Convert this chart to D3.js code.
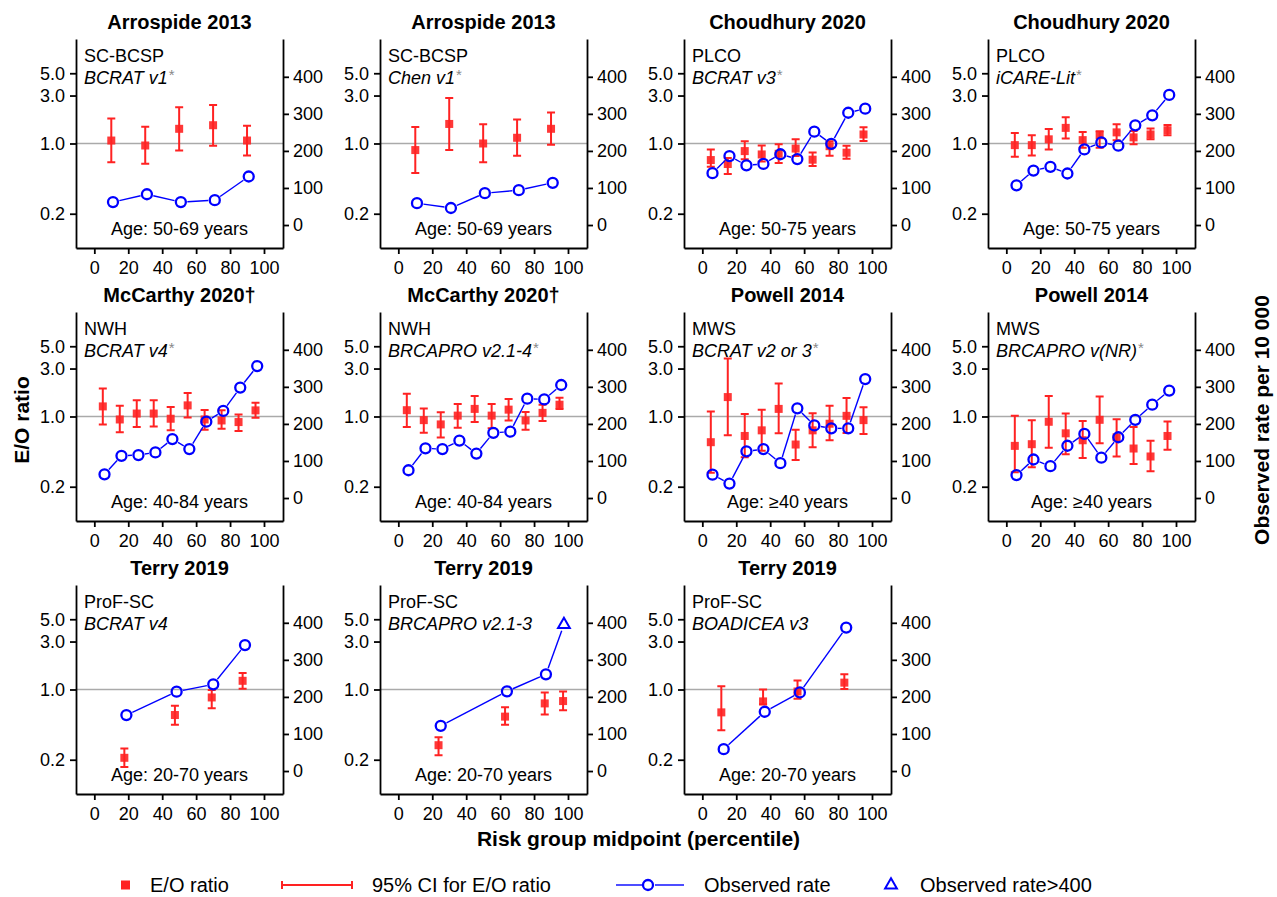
<!DOCTYPE html>
<html lang="en">
<head>
<meta charset="UTF-8">
<title>E/O ratio by risk group midpoint</title>
<script src="https://d3js.org/d3.v7.min.js"></script>
<style>
  body { margin: 0; background: #fff; }
  svg { font-family: "Liberation Sans", Arial, sans-serif; }
  .title { font-weight: bold; font-size: 20px; }
  .inner { font-size: 18px; }
  .axis text { font-size: 18px; fill: #000; }
  .axis path, .axis line { stroke: #000; stroke-width: 1.8px; }
  .lab { font-weight: bold; font-size: 21px; }
  .legend text { font-size: 20px; }
</style>
</head>
<body>
<div id="chart"></div>
<script>
// panel labels
const titles = ["Arrospide 2013", "Arrospide 2013", "Choudhury 2020", "Choudhury 2020",
  "McCarthy 2020\u2020", "McCarthy 2020\u2020", "Powell 2014", "Powell 2014",
  "Terry 2019", "Terry 2019", "Terry 2019"];
const cohorts = ["SC-BCSP", "SC-BCSP", "PLCO", "PLCO", "NWH", "NWH", "MWS", "MWS",
  "ProF-SC", "ProF-SC", "ProF-SC"];
const models = ["BCRAT v1", "Chen v1", "BCRAT v3", "iCARE-Lit", "BCRAT v4", "BRCAPRO v2.1-4",
  "BCRAT v2 or 3", "BRCAPRO v(NR)", "BCRAT v4", "BRCAPRO v2.1-3", "BOADICEA v3"];
const starred = [true, true, true, true, true, true, true, true, false, false, false];
const ages = ["Age: 50-69 years", "Age: 50-69 years", "Age: 50-75 years", "Age: 50-75 years",
  "Age: 40-84 years", "Age: 40-84 years", "Age: \u226540 years", "Age: \u226540 years",
  "Age: 20-70 years", "Age: 20-70 years", "Age: 20-70 years"];

// E/O ratio with 95% CI, by risk group midpoint (percentile)
const deciles = [5, 15, 25, 35, 45, 55, 65, 75, 85, 95];
const quintiles = [10, 30, 50, 70, 90];
const eoX = [quintiles, quintiles, deciles, deciles, deciles, deciles, deciles, deciles,
  [17.7, 47.5, 69.2, 87.4], [23.7, 62.9, 86.3, 97.1], [11.2, 35.8, 56.1, 83.7]];
const eoRatio = [
  [1.07, 0.955, 1.40, 1.52, 1.07],
  [0.86, 1.565, 1.0, 1.14, 1.40],
  [0.684, 0.625, 0.84, 0.778, 0.79, 0.89, 0.69, 0.94, 0.81, 1.23],
  [0.963, 0.963, 1.10, 1.43, 1.08, 1.21, 1.29, 1.15, 1.23, 1.355],
  [1.26, 0.934, 1.07, 1.07, 0.95, 1.29, 0.934, 0.913, 0.88, 1.15],
  [1.155, 0.92, 0.834, 1.02, 1.19, 1.02, 1.17, 0.913, 1.087, 1.31],
  [0.555, 1.56, 0.64, 0.728, 1.19, 0.526, 0.728, 0.847, 1.015, 0.92],
  [0.51, 0.53, 0.886, 0.68, 0.58, 0.927, 0.62, 0.48, 0.40, 0.64],
  [0.209, 0.557, 0.833, 1.22],
  [0.279, 0.537, 0.727, 0.767],
  [0.592, 0.761, 0.955, 1.17]
];
const ciLow = [
  [0.65, 0.63, 0.85, 0.95, 0.76],
  [0.51, 0.86, 0.65, 0.755, 0.97],
  [0.588, 0.497, 0.695, 0.66, 0.64, 0.75, 0.597, 0.755, 0.705, 1.06],
  [0.738, 0.76, 0.87, 1.12, 0.906, 0.906, 1.08, 0.98, 1.10, 1.21],
  [0.834, 0.696, 0.785, 0.797, 0.728, 0.978, 0.739, 0.756, 0.717, 0.97],
  [0.785, 0.69, 0.617, 0.774, 0.88, 0.762, 0.913, 0.739, 0.90, 1.19],
  [0.275, 0.65, 0.392, 0.456, 0.68, 0.369, 0.495, 0.58, 0.685, 0.67],
  [0.279, 0.312, 0.488, 0.42, 0.386, 0.542, 0.40, 0.337, 0.285, 0.467],
  [0.169, 0.447, 0.65, 1.015],
  [0.222, 0.447, 0.564, 0.62],
  [0.393, 0.713, 0.81, 1.01]
];
const ciHigh = [
  [1.77, 1.47, 2.29, 2.41, 1.50],
  [1.46, 2.83, 1.55, 1.73, 2.04],
  [0.87, 0.716, 1.05, 0.955, 0.98, 1.10, 0.815, 1.05, 0.95, 1.45],
  [1.275, 1.21, 1.39, 1.82, 1.30, 1.32, 1.55, 1.33, 1.41, 1.53],
  [1.90, 1.28, 1.45, 1.45, 1.245, 1.71, 1.16, 1.155, 1.046, 1.37],
  [1.685, 1.20, 1.10, 1.33, 1.60, 1.33, 1.49, 1.11, 1.31, 1.54],
  [1.12, 3.78, 1.06, 1.17, 2.13, 0.74, 1.08, 1.28, 1.53, 1.235],
  [1.02, 0.92, 1.60, 1.07, 0.90, 1.58, 0.94, 0.785, 0.572, 0.893],
  [0.259, 0.69, 0.99, 1.46],
  [0.335, 0.664, 0.934, 0.955],
  [1.08, 1.0, 1.23, 1.42]
];

// observed rate per 10 000 (right axis)
const obsX = [
  [11, 31, 51, 71, 91], [11, 31, 51, 71, 91],
  [6, 16, 26, 36, 46, 56, 66, 76, 86, 96], [6, 16, 26, 36, 46, 56, 66, 76, 86, 96],
  [6, 16, 26, 36, 46, 56, 66, 76, 86, 96], [6, 16, 26, 36, 46, 56, 66, 76, 86, 96],
  [6, 16, 26, 36, 46, 56, 66, 76, 86, 96], [6, 16, 26, 36, 46, 56, 66, 76, 86, 96],
  [18.9, 48.5, 70.1, 88.8], [25, 64, 87], [12.6, 36.8, 57.5, 84.8]
];
const obsRate = [
  [62, 83, 62, 67, 131],
  [59, 46, 86, 94, 114],
  [140, 186, 161, 165, 191, 178, 252, 219, 303, 314],
  [107, 147, 157, 139, 204, 223, 214, 269, 296, 351],
  [64, 114, 116, 123, 159, 132, 206, 235, 298, 356],
  [75, 134, 132, 155, 120, 176, 179, 268, 266, 305],
  [63, 39, 126, 132, 94, 242, 196, 188, 188, 321],
  [62, 104, 86, 141, 173, 109, 164, 211, 252, 290],
  [151, 214, 234, 340],
  [122, 215, 261],
  [59, 160, 212, 387]
];
// observed rate > 400 (drawn as triangle at the top)
const overPanel = [9];
const overX = [97.6];
const overRate = [395];

const xTicks = [0, 20, 40, 60, 80, 100];
const eoTicks = [0.2, 1, 3, 5];
const rateTicks = [0, 100, 200, 300, 400];

const width = 1277, height = 897;
const colLeft = [76, 380, 684, 988];
const rowTop = [39, 312, 585];
const pw = 207, ph = 209;
const red = "#f22", blue = "#0000ff";

const svg = d3.select("#chart").append("svg")
  .attr("width", width).attr("height", height);

const x = d3.scaleLinear().domain([-10.8, 111.2]).range([0, pw]);
const yEO = d3.scaleLog().domain([0.0912, 10.96]).range([ph, 0]);
const yRate = d3.scaleLinear().domain([-62, 502]).range([ph, 0]);

titles.forEach((t, i) => {
  const g = svg.append("g")
    .attr("transform", `translate(${colLeft[i % 4]},${rowTop[Math.floor(i / 4)]})`);

  g.append("text").attr("class", "title")
    .attr("x", pw / 2).attr("y", -10).attr("text-anchor", "middle").text(t);

  // reference line at E/O = 1
  g.append("line").attr("x1", 0).attr("x2", pw)
    .attr("y1", yEO(1)).attr("y2", yEO(1))
    .attr("stroke", "#aaa").attr("stroke-width", 1.3);

  g.append("g").attr("class", "axis")
    .call(d3.axisLeft(yEO).tickValues(eoTicks).tickFormat(d3.format(".1f"))
      .tickSize(6).tickSizeOuter(0).tickPadding(5));
  g.append("g").attr("class", "axis").attr("transform", `translate(${pw},0)`)
    .call(d3.axisRight(yRate).tickValues(rateTicks).tickSize(6).tickSizeOuter(0).tickPadding(4));
  g.append("g").attr("class", "axis").attr("transform", `translate(0,${ph})`)
    .call(d3.axisBottom(x).tickValues(xTicks).tickSize(6).tickSizeOuter(0).tickPadding(7));

  // cohort + model
  g.append("text").attr("class", "inner").attr("x", 8).attr("y", 23).text(cohorts[i]);
  const m = g.append("text").attr("class", "inner").attr("x", 8).attr("y", 45);
  m.append("tspan").attr("font-style", "italic").text(models[i]);
  if (starred[i]) {
    m.append("tspan").attr("fill", "#888").attr("font-size", 15).attr("dy", -4).attr("dx", 1).text("*");
  }
  g.append("text").attr("class", "inner").attr("x", pw / 2).attr("y", ph - 13)
    .attr("text-anchor", "middle").text(ages[i]);

  // CI bars
  const cap = 4;
  eoX[i].forEach((v, j) => {
    const cx = x(v), lo = yEO(ciLow[i][j]), hi = yEO(ciHigh[i][j]);
    const p = d3.path();
    p.moveTo(cx, lo); p.lineTo(cx, hi);
    p.moveTo(cx - cap, lo); p.lineTo(cx + cap, lo);
    p.moveTo(cx - cap, hi); p.lineTo(cx + cap, hi);
    g.append("path").attr("d", p.toString()).attr("stroke", red)
      .attr("stroke-width", 2).attr("fill", "none");
    g.append("rect").attr("x", cx - 4).attr("y", yEO(eoRatio[i][j]) - 4)
      .attr("width", 8).attr("height", 8).attr("fill", red).attr("opacity", 0.9);
  });

  // observed rate line (gaps at points)
  const pts = obsX[i].map((v, j) => [x(v), yRate(obsRate[i][j]), "o"]);
  overPanel.forEach((pi, k) => {
    if (pi === i) pts.push([x(overX[k]), yRate(overRate[k]), "t"]);
  });
  const gap = 6.5;
  for (let j = 1; j < pts.length; j++) {
    const [x0, y0] = pts[j - 1], [x1, y1] = pts[j];
    const d = Math.hypot(x1 - x0, y1 - y0);
    if (d <= 2 * gap) continue;
    const ux = (x1 - x0) / d, uy = (y1 - y0) / d;
    g.append("line")
      .attr("x1", x0 + ux * gap).attr("y1", y0 + uy * gap)
      .attr("x2", x1 - ux * gap).attr("y2", y1 - uy * gap)
      .attr("stroke", blue).attr("stroke-width", 1.4);
  }
  pts.forEach(([px, py, k]) => {
    if (k === "o") {
      g.append("circle").attr("cx", px).attr("cy", py).attr("r", 5)
        .attr("fill", "none").attr("stroke", blue).attr("stroke-width", 2.3);
    } else {
      g.append("path").attr("d", d3.symbol(d3.symbolTriangle, 60)())
        .attr("transform", `translate(${px},${py})`)
        .attr("fill", "none").attr("stroke", blue).attr("stroke-width", 2);
    }
  });
});

// axis titles
svg.append("text").attr("class", "lab").attr("text-anchor", "middle")
  .attr("transform", "translate(29,420) rotate(-90)").text("E/O ratio");
svg.append("text").attr("class", "lab").attr("text-anchor", "middle")
  .attr("transform", "translate(1269,420) rotate(-90)").text("Observed rate per 10 000");
svg.append("text").attr("class", "lab").attr("text-anchor", "middle")
  .attr("x", width / 2).attr("y", 846).text("Risk group midpoint (percentile)");

// legend
const lg = svg.append("g").attr("class", "legend");
const ly = 885;
lg.append("rect").attr("x", 121).attr("y", ly - 4.5).attr("width", 9).attr("height", 9).attr("fill", red);
lg.append("text").attr("x", 150).attr("y", ly + 7).text("E/O ratio");
const lp = d3.path();
lp.moveTo(282, ly); lp.lineTo(352, ly);
lp.moveTo(282, ly - 4); lp.lineTo(282, ly + 4);
lp.moveTo(352, ly - 4); lp.lineTo(352, ly + 4);
lg.append("path").attr("d", lp.toString()).attr("stroke", red).attr("stroke-width", 2).attr("fill", "none");
lg.append("text").attr("x", 372).attr("y", ly + 7).text("95% CI for E/O ratio");
lg.append("line").attr("x1", 616).attr("x2", 642).attr("y1", ly).attr("y2", ly).attr("stroke", blue).attr("stroke-width", 1.4);
lg.append("line").attr("x1", 655).attr("x2", 684).attr("y1", ly).attr("y2", ly).attr("stroke", blue).attr("stroke-width", 1.4);
lg.append("circle").attr("cx", 648).attr("cy", ly).attr("r", 5).attr("fill", "none").attr("stroke", blue).attr("stroke-width", 2.3);
lg.append("text").attr("x", 704).attr("y", ly + 7).text("Observed rate");
lg.append("path").attr("d", d3.symbol(d3.symbolTriangle, 60)())
  .attr("transform", `translate(891,${ly})`).attr("fill", "none").attr("stroke", blue).attr("stroke-width", 2);
lg.append("text").attr("x", 920).attr("y", ly + 7).text("Observed rate>400");
</script>
</body>
</html>
